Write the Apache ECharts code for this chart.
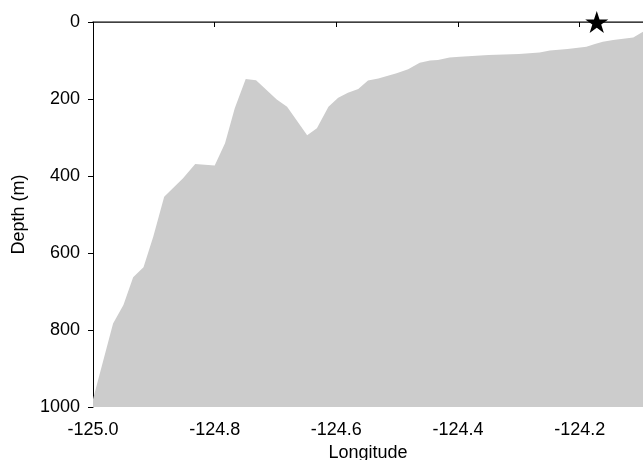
<!DOCTYPE html>
<html>
<head>
<meta charset="utf-8">
<script src="https://cdn.jsdelivr.net/npm/echarts@6/dist/echarts.min.js"></script>
<style>html,body{margin:0;padding:0;background:#fff}#c{width:643px;height:460px}</style>
</head>
<body>
<div id="c"></div>
<script>
const longitudes = [-125.0, -124.967, -124.950, -124.934, -124.917, -124.901, -124.883, -124.852, -124.832, -124.800, -124.783, -124.767, -124.749, -124.732, -124.698, -124.681, -124.648, -124.632, -124.613, -124.597, -124.581, -124.564, -124.548, -124.531, -124.501, -124.482, -124.463, -124.446, -124.433, -124.414, -124.397, -124.35, -124.30, -124.266, -124.249, -124.22, -124.189, -124.175, -124.162, -124.145, -124.112, -124.096];
const depths = [980, 783, 735, 663, 637, 558, 454, 406, 369, 373, 315, 224, 148, 151, 201, 220, 294, 276, 220, 197, 184, 174, 152, 147, 133, 123, 106, 100, 99, 92, 90, 86, 83, 79, 74, 70, 64, 57, 51, 47, 40, 25];
const stationLon = [-124.172];
const stationDepth = [0];
const xTicks = ['-125.0', '-124.8', '-124.6', '-124.4', '-124.2'];
const yTicks = ['0', '200', '400', '600', '800', '1000'];

const font = 'Liberation Sans, Arial, Helvetica, sans-serif';
const chart = echarts.init(document.getElementById('c'), null, {renderer: 'canvas'});
chart.setOption({
  animation: false,
  backgroundColor: '#ffffff',
  grid: {left: 93, right: 0, top: 22, bottom: 53, outerBoundsMode: 'none', containLabel: false},
  xAxis: [{
    type: 'value', min: -125.0, max: -124.096, interval: 0.2,
    name: 'Longitude', nameLocation: 'middle', nameGap: 33,
    nameTextStyle: {fontSize: 18, color: '#000', fontFamily: font},
    axisLine: {lineStyle: {color: '#000', width: 1}},
    axisTick: {length: 5, lineStyle: {color: '#000'}},
    axisLabel: {fontSize: 18, color: '#000', fontFamily: font, margin: 14, showMaxLabel: false,
      formatter: v => { const s = v.toFixed(1); return xTicks.includes(s) ? s : ''; }},
    splitLine: {show: false}
  }, {
    type: 'value', position: 'top', min: -125.0, max: -124.096,
    axisLine: {show: true, lineStyle: {color: '#555', width: 1.5}},
    axisTick: {show: false}, axisLabel: {show: false}, splitLine: {show: false}
  }],
  yAxis: {
    type: 'value', min: 0, max: 1000, interval: 200, inverse: true,
    name: 'Depth (m)', nameLocation: 'middle', nameGap: 65, nameRotate: 90,
    nameTextStyle: {fontSize: 18, color: '#000', fontFamily: font},
    axisLine: {show: true, lineStyle: {color: '#000', width: 1}},
    axisTick: {show: true, length: 5, lineStyle: {color: '#000'}},
    axisLabel: {fontSize: 18, color: '#000', fontFamily: font, margin: 13,
      formatter: v => { const s = String(Math.round(v)); return yTicks.includes(s) ? s : ''; }},
    splitLine: {show: false}
  },
  series: [{
    type: 'line',
    data: longitudes.map((x, i) => [x, depths[i]]),
    symbol: 'none',
    lineStyle: {width: 0},
    areaStyle: {color: '#cccccc', opacity: 1, origin: 'end'},
    z: 1
  }, {
    type: 'scatter',
    data: stationLon.map((x, i) => [x, stationDepth[i]]),
    symbol: 'path://M50,0 L61.8,35.1 L98.9,35.1 L68.9,56.7 L80.3,91.9 L50,70.2 L19.7,91.9 L31.1,56.7 L1.1,35.1 L38.2,35.1 Z',
    symbolSize: [23, 22],
    itemStyle: {color: '#000', opacity: 1},
    clip: false,
    z: 5
  }]
});
</script>
</body>
</html>
